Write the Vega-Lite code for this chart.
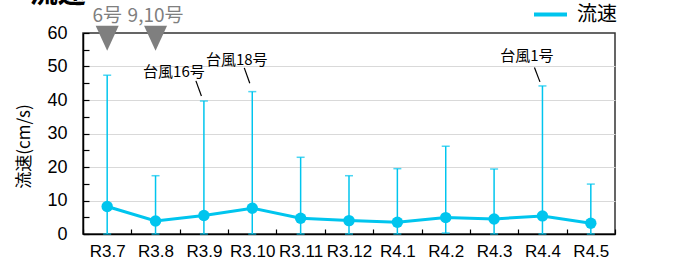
{
  "$schema": "https://vega.github.io/schema/vega-lite/v6.json",
  "width": 532,
  "height": 201,
  "autosize": {"type": "none"},
  "padding": {"left": 83, "top": 33, "right": 65, "bottom": 29},
  "background": "white",
  "config": {
    "font": "Liberation Sans, Noto Sans CJK JP",
    "view": {"stroke": "#333333", "strokeWidth": 1.5},
    "axis": {"domainColor": "#000000", "domainWidth": 1.5, "tickColor": "#000000", "tickWidth": 1.2, "labelColor": "#000000", "titleColor": "#000000"},
    "axisY": {
      "labelFontSize": 18,
      "labelFont": "Liberation Sans",
      "tickSize": -6,
      "labelPadding": 22,
      "grid": true,
      "gridColor": "#d9d9d9",
      "gridWidth": 1.2
    }
  },
  "datasets": {
    "flow": [
      {"month": "R3.7", "mean": 8.2, "max": 47.4, "min": 0},
      {"month": "R3.8", "mean": 3.9, "max": 17.4, "min": 0},
      {"month": "R3.9", "mean": 5.5, "max": 39.7, "min": 0},
      {"month": "R3.10", "mean": 7.7, "max": 42.5, "min": 0},
      {"month": "R3.11", "mean": 4.7, "max": 22.9, "min": 0},
      {"month": "R3.12", "mean": 4.0, "max": 17.4, "min": 0},
      {"month": "R4.1", "mean": 3.5, "max": 19.5, "min": 0},
      {"month": "R4.2", "mean": 4.9, "max": 26.2, "min": 0.3},
      {"month": "R4.3", "mean": 4.5, "max": 19.4, "min": 0},
      {"month": "R4.4", "mean": 5.4, "max": 44.2, "min": 0},
      {"month": "R4.5", "mean": 3.2, "max": 14.9, "min": 0}
    ],
    "markers": [
      {"month": "R3.7", "label": "6号", "tri": 58.4, "labelY": 65},
      {"month": "R3.8", "label": "9,10号", "tri": 58.4, "labelY": 65}
    ],
    "typhoon16": [
      {"month": "R3.9", "label": "台風16号", "ty": 48.5}
    ],
    "typhoonOthers": [
      {"month": "R3.10", "label": "台風18号", "ty": 51.9},
      {"month": "R4.4", "label": "台風1号", "ty": 53.2}
    ],
    "leaders": [
      {"month": "R3.9", "from": 45.7, "to": 41.2},
      {"month": "R3.10", "from": 49.6, "to": 45.0},
      {"month": "R4.4", "from": 49.7, "to": 45.4}
    ],
    "heading": [
      {"month": "R3.7", "label": "<流速>", "hy": 67.2}
    ]
  },
  "encoding": {
    "x": {
      "field": "month",
      "type": "ordinal",
      "scale": {"type": "band", "domain": ["R3.7", "R3.8", "R3.9", "R3.10", "R3.11", "R3.12", "R4.1", "R4.2", "R4.3", "R4.4", "R4.5"], "paddingInner": 0, "paddingOuter": 0},
      "axis": {"title": null, "labelAngle": 0, "tickBand": "extent", "tickSize": -5, "labelFontSize": 17, "labelFont": "Liberation Sans", "labelPadding": 14, "grid": false}
    }
  },
  "layer": [
    {
      "data": {"name": "flow"},
      "mark": {"type": "rule", "color": "#00C5EE", "strokeWidth": 1.5},
      "encoding": {
        "y": {"field": "min", "type": "quantitative", "title": "流速(cm/s)", "scale": {"domain": [0, 60], "nice": false},
          "axis": {"title": "流速(cm/s)", "titleFont": "Noto Sans CJK JP", "titleFontSize": 17, "titleFontWeight": "normal", "titleX": -59, "titleY": 113, "titleBaseline": "middle", "titleAlign": "center", "values": [0, 5, 10, 15, 20, 25, 30, 35, 40, 45, 50, 55, 60], "labelExpr": "datum.value % 10 === 0 ? datum.label : ''", "gridOpacity": {"condition": {"test": "datum.value % 10 === 0 && datum.value > 0 && datum.value < 60", "value": 1}, "value": 0}}},
        "y2": {"field": "max"}
      }
    },
    {
      "data": {"name": "flow"},
      "mark": {"type": "tick", "color": "#00C5EE", "size": 8, "thickness": 1.5},
      "encoding": {"y": {"field": "max", "type": "quantitative", "title": "流速(cm/s)", "scale": {"domain": [0, 60], "nice": false},
          "axis": {"title": "流速(cm/s)", "titleFont": "Noto Sans CJK JP", "titleFontSize": 17, "titleFontWeight": "normal", "titleX": -59, "titleY": 113, "titleBaseline": "middle", "titleAlign": "center", "values": [0, 5, 10, 15, 20, 25, 30, 35, 40, 45, 50, 55, 60], "labelExpr": "datum.value % 10 === 0 ? datum.label : ''", "gridOpacity": {"condition": {"test": "datum.value % 10 === 0 && datum.value > 0 && datum.value < 60", "value": 1}, "value": 0}}}}
    },
    {
      "data": {"name": "flow"},
      "mark": {"type": "tick", "color": "#00C5EE", "size": 8, "thickness": 1.5},
      "encoding": {"y": {"field": "min", "type": "quantitative", "title": "流速(cm/s)", "scale": {"domain": [0, 60], "nice": false},
          "axis": {"title": "流速(cm/s)", "titleFont": "Noto Sans CJK JP", "titleFontSize": 17, "titleFontWeight": "normal", "titleX": -59, "titleY": 113, "titleBaseline": "middle", "titleAlign": "center", "values": [0, 5, 10, 15, 20, 25, 30, 35, 40, 45, 50, 55, 60], "labelExpr": "datum.value % 10 === 0 ? datum.label : ''", "gridOpacity": {"condition": {"test": "datum.value % 10 === 0 && datum.value > 0 && datum.value < 60", "value": 1}, "value": 0}}}}
    },
    {
      "data": {"name": "flow"},
      "mark": {"type": "line", "strokeWidth": 3},
      "encoding": {
        "y": {"field": "mean", "type": "quantitative", "title": "流速(cm/s)", "scale": {"domain": [0, 60], "nice": false},
          "axis": {"title": "流速(cm/s)", "titleFont": "Noto Sans CJK JP", "titleFontSize": 17, "titleFontWeight": "normal", "titleX": -59, "titleY": 113, "titleBaseline": "middle", "titleAlign": "center", "values": [0, 5, 10, 15, 20, 25, 30, 35, 40, 45, 50, 55, 60], "labelExpr": "datum.value % 10 === 0 ? datum.label : ''", "gridOpacity": {"condition": {"test": "datum.value % 10 === 0 && datum.value > 0 && datum.value < 60", "value": 1}, "value": 0}}},
        "color": {
          "datum": "流速",
          "scale": {"range": ["#00C5EE"]},
          "legend": {"title": null, "orient": "none", "legendX": 449, "legendY": -37, "symbolType": "stroke", "symbolSize": 1089, "symbolStrokeWidth": 4, "labelFontSize": 20, "labelFont": "Noto Sans CJK JP", "labelOffset": 8}
        }
      }
    },
    {
      "data": {"name": "flow"},
      "mark": {"type": "point", "filled": true, "opacity": 1, "size": 130, "color": "#00C5EE"},
      "encoding": {"y": {"field": "mean", "type": "quantitative", "title": "流速(cm/s)", "scale": {"domain": [0, 60], "nice": false},
          "axis": {"title": "流速(cm/s)", "titleFont": "Noto Sans CJK JP", "titleFontSize": 17, "titleFontWeight": "normal", "titleX": -59, "titleY": 113, "titleBaseline": "middle", "titleAlign": "center", "values": [0, 5, 10, 15, 20, 25, 30, 35, 40, 45, 50, 55, 60], "labelExpr": "datum.value % 10 === 0 ? datum.label : ''", "gridOpacity": {"condition": {"test": "datum.value % 10 === 0 && datum.value > 0 && datum.value < 60", "value": 1}, "value": 0}}}}
    },
    {
      "data": {"name": "markers"},
      "mark": {"type": "point", "filled": true, "opacity": 1, "shape": "M-0.92,-1L0.92,-1L0,1Z", "size": 625, "color": "#7f7f7f", "clip": false},
      "encoding": {"y": {"field": "tri", "type": "quantitative", "title": "流速(cm/s)", "scale": {"domain": [0, 60], "nice": false},
          "axis": {"title": "流速(cm/s)", "titleFont": "Noto Sans CJK JP", "titleFontSize": 17, "titleFontWeight": "normal", "titleX": -59, "titleY": 113, "titleBaseline": "middle", "titleAlign": "center", "values": [0, 5, 10, 15, 20, 25, 30, 35, 40, 45, 50, 55, 60], "labelExpr": "datum.value % 10 === 0 ? datum.label : ''", "gridOpacity": {"condition": {"test": "datum.value % 10 === 0 && datum.value > 0 && datum.value < 60", "value": 1}, "value": 0}}}}
    },
    {
      "data": {"name": "markers"},
      "mark": {"type": "text", "fontSize": 19, "color": "#7f7f7f", "baseline": "middle", "align": "center", "font": "Noto Sans CJK JP", "clip": false},
      "encoding": {
        "y": {"field": "labelY", "type": "quantitative", "title": "流速(cm/s)", "scale": {"domain": [0, 60], "nice": false},
          "axis": {"title": "流速(cm/s)", "titleFont": "Noto Sans CJK JP", "titleFontSize": 17, "titleFontWeight": "normal", "titleX": -59, "titleY": 113, "titleBaseline": "middle", "titleAlign": "center", "values": [0, 5, 10, 15, 20, 25, 30, 35, 40, 45, 50, 55, 60], "labelExpr": "datum.value % 10 === 0 ? datum.label : ''", "gridOpacity": {"condition": {"test": "datum.value % 10 === 0 && datum.value > 0 && datum.value < 60", "value": 1}, "value": 0}}},
        "text": {"field": "label"}
      }
    },
    {
      "data": {"name": "typhoon16"},
      "mark": {"type": "text", "fontSize": 15, "color": "#000000", "baseline": "middle", "align": "center", "dx": -30, "font": "Noto Sans CJK JP"},
      "encoding": {
        "y": {"field": "ty", "type": "quantitative", "title": "流速(cm/s)", "scale": {"domain": [0, 60], "nice": false},
          "axis": {"title": "流速(cm/s)", "titleFont": "Noto Sans CJK JP", "titleFontSize": 17, "titleFontWeight": "normal", "titleX": -59, "titleY": 113, "titleBaseline": "middle", "titleAlign": "center", "values": [0, 5, 10, 15, 20, 25, 30, 35, 40, 45, 50, 55, 60], "labelExpr": "datum.value % 10 === 0 ? datum.label : ''", "gridOpacity": {"condition": {"test": "datum.value % 10 === 0 && datum.value > 0 && datum.value < 60", "value": 1}, "value": 0}}},
        "text": {"field": "label"}
      }
    },
    {
      "data": {"name": "typhoonOthers"},
      "mark": {"type": "text", "fontSize": 15, "color": "#000000", "baseline": "middle", "align": "center", "dx": -15.5, "font": "Noto Sans CJK JP"},
      "encoding": {
        "y": {"field": "ty", "type": "quantitative", "title": "流速(cm/s)", "scale": {"domain": [0, 60], "nice": false},
          "axis": {"title": "流速(cm/s)", "titleFont": "Noto Sans CJK JP", "titleFontSize": 17, "titleFontWeight": "normal", "titleX": -59, "titleY": 113, "titleBaseline": "middle", "titleAlign": "center", "values": [0, 5, 10, 15, 20, 25, 30, 35, 40, 45, 50, 55, 60], "labelExpr": "datum.value % 10 === 0 ? datum.label : ''", "gridOpacity": {"condition": {"test": "datum.value % 10 === 0 && datum.value > 0 && datum.value < 60", "value": 1}, "value": 0}}},
        "text": {"field": "label"}
      }
    },
    {
      "data": {"name": "leaders"},
      "mark": {"type": "rule", "color": "#000000", "strokeWidth": 1.2, "xOffset": -8, "x2Offset": -2.5},
      "encoding": {
        "x2": {"field": "month"},
        "y": {"field": "from", "type": "quantitative", "title": "流速(cm/s)", "scale": {"domain": [0, 60], "nice": false},
          "axis": {"title": "流速(cm/s)", "titleFont": "Noto Sans CJK JP", "titleFontSize": 17, "titleFontWeight": "normal", "titleX": -59, "titleY": 113, "titleBaseline": "middle", "titleAlign": "center", "values": [0, 5, 10, 15, 20, 25, 30, 35, 40, 45, 50, 55, 60], "labelExpr": "datum.value % 10 === 0 ? datum.label : ''", "gridOpacity": {"condition": {"test": "datum.value % 10 === 0 && datum.value > 0 && datum.value < 60", "value": 1}, "value": 0}}},
        "y2": {"field": "to"}
      }
    },
    {
      "data": {"name": "heading"},
      "mark": {"type": "text", "fontSize": 28, "fontWeight": "bold", "color": "#000000", "baseline": "bottom", "align": "left", "dx": -94, "font": "Noto Sans CJK JP", "clip": false},
      "encoding": {
        "y": {"field": "hy", "type": "quantitative", "title": "流速(cm/s)", "scale": {"domain": [0, 60], "nice": false},
          "axis": {"title": "流速(cm/s)", "titleFont": "Noto Sans CJK JP", "titleFontSize": 17, "titleFontWeight": "normal", "titleX": -59, "titleY": 113, "titleBaseline": "middle", "titleAlign": "center", "values": [0, 5, 10, 15, 20, 25, 30, 35, 40, 45, 50, 55, 60], "labelExpr": "datum.value % 10 === 0 ? datum.label : ''", "gridOpacity": {"condition": {"test": "datum.value % 10 === 0 && datum.value > 0 && datum.value < 60", "value": 1}, "value": 0}}},
        "text": {"field": "label"}
      }
    }
  ]
}
